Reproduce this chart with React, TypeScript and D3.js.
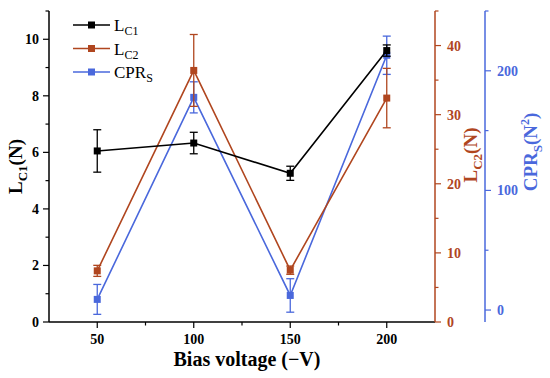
import * as d3 from "d3";

const biasVoltage = [50, 100, 150, 200];
const lc1 = [6.05, 6.33, 5.26, 9.6];
const lc1Err = [0.75, 0.38, 0.25, 0.2];
const lc2 = [7.4, 36.4, 7.5, 32.4];
const lc2Err = [0.8, 5.2, 0.6, 4.3];
const cprs = [8.9, 177.8, 12.2, 213];
const cprsErr = [12.5, 13, 14, 16];

const xTicks = [50, 100, 150, 200];
const leftTicks = [0, 2, 4, 6, 8, 10];
const redTicks = [0, 10, 20, 30, 40];
const blueTicks = [0, 100, 200];

const BLACK = "#000000";
const RED = "#b0461f";
const BLUE = "#4a68dc";
const FONT = "'Liberation Serif', 'Times New Roman', serif";

export default function App() {
  const width = 550;
  const height = 378;
  const left = 49;
  const right = 435;
  const top = 11;
  const bottom = 322;

  const x = d3.scaleLinear().domain([25, 225]).range([left, right]);
  const yL = d3.scaleLinear().domain([0, 11]).range([bottom, top]);
  const yR = d3.scaleLinear().domain([0, 45]).range([bottom, top]);
  const yB = d3.scaleLinear().domain([-10, 250]).range([bottom, top]);
  const blueX = 485;

  const series = [
    { name: "CPRS", vals: cprs, err: cprsErr, y: yB, color: BLUE },
    { name: "LC2", vals: lc2, err: lc2Err, y: yR, color: RED },
    { name: "LC1", vals: lc1, err: lc1Err, y: yL, color: BLACK },
  ];

  const line = (vals: number[], y: d3.ScaleLinear<number, number>) =>
    d3
      .line<number>()
      .x((_, i) => x(biasVoltage[i]))
      .y((d) => y(d))(vals) ?? "";

  const legend = [
    { color: BLACK, main: "L", sub: "C1" },
    { color: RED, main: "L", sub: "C2" },
    { color: BLUE, main: "CPR", sub: "S" },
  ];

  return (
    <svg
      width={width}
      height={height}
      style={{ position: "absolute", left: 0, top: 0, background: "#fff" }}
      fontFamily={FONT}
      fontWeight="bold"
    >
      {/* left axis */}
      <line x1={left} x2={left} y1={top} y2={bottom} stroke={BLACK} strokeWidth={1.5} />
      {d3.range(0, 12, 1).map((t) => (
        <line
          key={t}
          x1={left}
          x2={left - (t % 2 === 0 ? 6 : 3.5)}
          y1={yL(t)}
          y2={yL(t)}
          stroke={BLACK}
          strokeWidth={1.2}
        />
      ))}
      {leftTicks.map((t) => (
        <text key={t} x={left - 10} y={yL(t) + 5} textAnchor="end" fontSize={14}>
          {t}
        </text>
      ))}
      <text transform={`translate(22, ${(top + bottom) / 2}) rotate(-90)`} textAnchor="middle" fontSize={19}>
        L<tspan fontSize={13} dy={5}>C1</tspan>
        <tspan dy={-5}>(N)</tspan>
      </text>

      {/* bottom axis */}
      <line x1={left} x2={right} y1={bottom} y2={bottom} stroke={BLACK} strokeWidth={1.5} />
      {d3.range(50, 225, 25).map((t) => (
        <line
          key={t}
          x1={x(t)}
          x2={x(t)}
          y1={bottom}
          y2={bottom + (t % 50 === 0 ? 6 : 3.5)}
          stroke={BLACK}
          strokeWidth={1.2}
        />
      ))}
      {xTicks.map((t) => (
        <text key={t} x={x(t)} y={bottom + 22} textAnchor="middle" fontSize={14}>
          {t}
        </text>
      ))}
      <text x={(left + right) / 2 + 5} y={bottom + 44} textAnchor="middle" fontSize={20}>
        Bias voltage (−V)
      </text>

      {/* red right axis */}
      <line x1={right} x2={right} y1={top} y2={bottom} stroke={RED} strokeWidth={1.5} />
      {d3.range(0, 46, 5).map((t) => (
        <line
          key={t}
          x1={right}
          x2={right + (t % 10 === 0 ? 6 : 3.5)}
          y1={yR(t)}
          y2={yR(t)}
          stroke={RED}
          strokeWidth={1.2}
        />
      ))}
      {redTicks.map((t) => (
        <text key={t} x={right + 12} y={yR(t) + 5} fontSize={14} fill={RED}>
          {t}
        </text>
      ))}
      <text
        transform={`translate(477, 155) rotate(-90)`}
        textAnchor="middle"
        fontSize={19}
        fill={RED}
      >
        L<tspan fontSize={13} dy={5}>C2</tspan>
        <tspan dy={-5}>(N)</tspan>
      </text>

      {/* blue right axis */}
      <line x1={blueX} x2={blueX} y1={top} y2={bottom} stroke={BLUE} strokeWidth={1.5} />
      {d3.range(0, 251, 50).map((t) => (
        <line
          key={t}
          x1={blueX}
          x2={blueX + (t % 100 === 0 ? 6 : 3.5)}
          y1={yB(t)}
          y2={yB(t)}
          stroke={BLUE}
          strokeWidth={1.2}
        />
      ))}
      {blueTicks.map((t) => (
        <text key={t} x={blueX + 12} y={yB(t) + 5} fontSize={14} fill={BLUE}>
          {t}
        </text>
      ))}
      <text
        transform={`translate(537, 152) rotate(-90)`}
        textAnchor="middle"
        fontSize={19}
        fill={BLUE}
      >
        CPR<tspan fontSize={13} dy={5}>S</tspan>
        <tspan dy={-5}>(N</tspan>
        <tspan fontSize={12} dy={-8}>2</tspan>
        <tspan dy={8}>)</tspan>
      </text>

      {/* series */}
      {series.map((s) => (
        <g key={s.name}>
          <path d={line(s.vals, s.y)} fill="none" stroke={s.color} strokeWidth={1.6} />
          {s.vals.map((v, i) => {
            const cx = x(biasVoltage[i]);
            const y1 = s.y(v + s.err[i]);
            const y2 = s.y(v - s.err[i]);
            return (
              <g key={i} stroke={s.color} strokeWidth={1.3}>
                <line x1={cx} x2={cx} y1={y1} y2={y2} />
                <line x1={cx - 4} x2={cx + 4} y1={y1} y2={y1} />
                <line x1={cx - 4} x2={cx + 4} y1={y2} y2={y2} />
                <rect x={cx - 3.5} y={s.y(v) - 3.5} width={7} height={7} fill={s.color} stroke="none" />
              </g>
            );
          })}
        </g>
      ))}

      {/* legend */}
      {legend.map((l, i) => {
        const ly = 25 + i * 23.5;
        return (
          <g key={l.sub}>
            <line x1={73} x2={110} y1={ly} y2={ly} stroke={l.color} strokeWidth={1.6} />
            <rect x={88} y={ly - 3.5} width={7} height={7} fill={l.color} />
            <text x={114} y={ly + 6} fontSize={17} fontWeight="normal">
              {l.main}
              <tspan fontSize={12} dy={4}>
                {l.sub}
              </tspan>
            </text>
          </g>
        );
      })}
    </svg>
  );
}
